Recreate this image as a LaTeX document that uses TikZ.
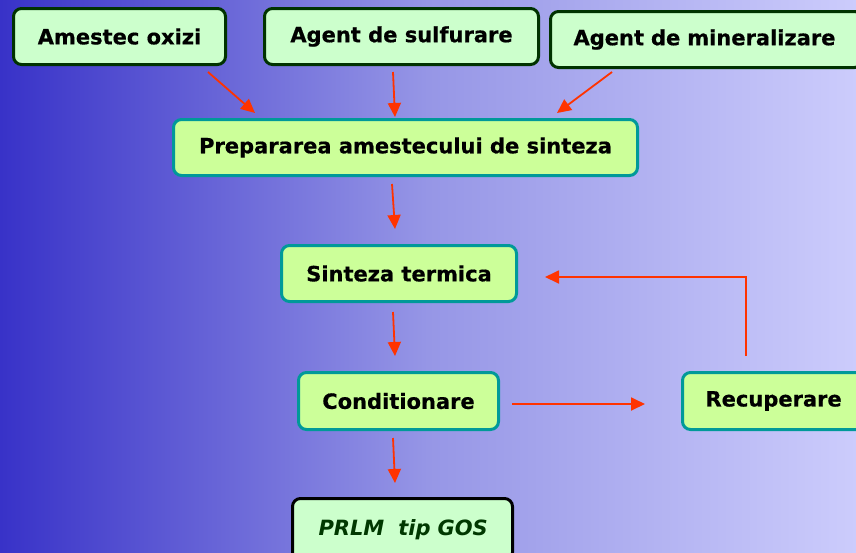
\documentclass[tikz,border=0pt]{standalone}
\usepackage{fontspec}
\setmainfont{DejaVu Sans}[BoldFeatures={FakeBold=0.6}]
\usetikzlibrary{arrows.meta}
\definecolor{bgL}{RGB}{56,50,200}
\definecolor{bgM}{RGB}{150,150,230}
\definecolor{bgR}{RGB}{204,204,252}
\definecolor{inbox}{RGB}{204,255,204}
\definecolor{procbox}{RGB}{204,255,153}
\definecolor{inborder}{RGB}{0,51,0}
\definecolor{procborder}{RGB}{0,153,153}
\definecolor{arr}{RGB}{255,51,0}
\definecolor{outtext}{RGB}{0,56,0}
\begin{document}
\begin{tikzpicture}[x=1pt,y=-1pt,
  boxfont/.style={font=\bfseries\fontsize{21}{24}\selectfont},
  inputbox/.style={draw=inborder,fill=inbox,line width=3pt,rounded corners=8pt,boxfont,anchor=north west,inner sep=0pt},
  procbox/.style={draw=procborder,fill=procbox,line width=3pt,rounded corners=8pt,boxfont,anchor=north west,inner sep=0pt},
  outbox/.style={draw=black,fill=inbox,line width=3pt,rounded corners=8pt,font=\bfseries\itshape\fontsize{21}{24}\selectfont,text=outtext,anchor=north west,inner sep=0pt},
  flow/.style={draw=arr,line width=1.8pt,-{Triangle[length=14pt,width=13pt]}}]
\useasboundingbox (0,0) rectangle (856,552);
\shade[left color=bgL,right color=bgR,middle color=bgM] (0,0) rectangle (856,552);
% nodes
\node[inputbox,minimum width=212pt,minimum height=56pt] (ox) at (12,7) {Amestec oxizi};
\node[inputbox,minimum width=274pt,minimum height=56pt] (sulf) at (263,7) {Agent de sulfurare};
\node[inputbox,minimum width=312pt,minimum height=56pt,text width=312pt,align=left] (min) at (549,10) {\hspace*{23pt}Agent de mineralizare};
\node[procbox,minimum width=464pt,minimum height=56pt] (prep) at (172,118) {Prepararea amestecului de sinteza};
\node[procbox,minimum width=235pt,minimum height=56pt] (sint) at (280,244) {Sinteza termica};
\node[procbox,minimum width=200pt,minimum height=57pt] (cond) at (297,371) {Conditionare};
\node[procbox,minimum width=182pt,minimum height=57pt,text width=182pt,align=left] (rec) at (681,371) {\hspace*{23pt}Recuperare};
\node[outbox,minimum width=220pt,minimum height=62pt,text width=220pt,align=left] (out) at (291,497) {\hspace*{26pt}PRLM\ \ tip GOS};
% arrow end points
\coordinate (a1s) at (208,72); \coordinate (a1e) at (255,113);
\coordinate (a2s) at (393,72); \coordinate (a2e) at (395,117);
\coordinate (a3s) at (612,72); \coordinate (a3e) at (557,113);
\coordinate (a4s) at (392,184); \coordinate (a4e) at (395,229);
\coordinate (a5s) at (393,312); \coordinate (a5e) at (395,356);
\coordinate (a6s) at (393,438); \coordinate (a6e) at (395,483);
\coordinate (a7s) at (512,404); \coordinate (a7e) at (645,404);
\coordinate (a8s) at (746,356); \coordinate (a8c) at (746,277); \coordinate (a8e) at (545,277);
\draw[flow] (a1s) -- (a1e);
\draw[flow] (a2s) -- (a2e);
\draw[flow] (a3s) -- (a3e);
\draw[flow] (a4s) -- (a4e);
\draw[flow] (a5s) -- (a5e);
\draw[flow] (a6s) -- (a6e);
\draw[flow] (a7s) -- (a7e);
\draw[flow] (a8s) -- (a8c) -- (a8e);
\end{tikzpicture}
\end{document}
